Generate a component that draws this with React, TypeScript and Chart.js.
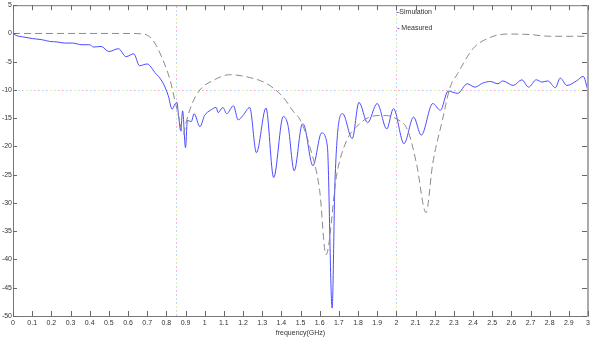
import React, { useEffect, useRef } from "react";
import { Chart, registerables } from "chart.js";

Chart.register(...registerables);

const simFreq = [0, 0.3, 0.6, 0.68, 0.73, 0.78, 0.82, 0.845, 0.87, 0.887, 0.905, 0.93, 0.975, 1.045, 1.13, 1.235, 1.325, 1.41, 1.46, 1.5, 1.55, 1.6, 1.633, 1.69, 1.74, 1.79, 1.86, 1.93, 2.0, 2.06, 2.105, 2.155, 2.19, 2.24, 2.28, 2.32, 2.4, 2.49, 2.58, 2.7, 2.8, 3.0];
const simVal = [0, 0, 0, -0.1, -1.2, -4.5, -8.3, -11.9, -15.5, -17.9, -15.5, -12.8, -10.0, -8.3, -7.3, -7.8, -8.9, -11.3, -13.7, -15.4, -20.2, -27.8, -39.2, -24.8, -19, -16.6, -14.8, -14.5, -15.1, -17.2, -23, -31.7, -23, -15.4, -9.6, -7.1, -2.7, -0.7, -0.1, -0.2, -0.5, -0.5];

const measFreq = [0, 0.02, 0.05, 0.1, 0.15, 0.19, 0.23, 0.27, 0.31, 0.36, 0.4, 0.42, 0.46, 0.5, 0.55, 0.59, 0.63, 0.66, 0.7, 0.74, 0.78, 0.81, 0.83, 0.845, 0.855, 0.865, 0.875, 0.885, 0.9, 0.91, 0.93, 0.945, 0.975, 1.0, 1.03, 1.06, 1.07, 1.095, 1.115, 1.15, 1.175, 1.2, 1.235, 1.27, 1.32, 1.36, 1.41, 1.435, 1.467, 1.51, 1.52, 1.565, 1.61, 1.64, 1.665, 1.68, 1.72, 1.77, 1.805, 1.85, 1.9, 1.95, 1.985, 2.04, 2.09, 2.13, 2.19, 2.23, 2.27, 2.32, 2.37, 2.41, 2.45, 2.49, 2.53, 2.555, 2.61, 2.655, 2.69, 2.73, 2.76, 2.79, 2.83, 2.855, 2.89, 2.94, 2.975, 3.0];
const measVal = [0, -0.4, -0.6, -0.9, -1.1, -1.4, -1.5, -1.7, -1.7, -2.0, -2.0, -2.4, -2.3, -3.2, -2.7, -4.1, -3.6, -5.7, -5.4, -6.9, -8.6, -11, -13.4, -12.5, -12.2, -14.9, -17.2, -13.7, -20.2, -15.4, -15.6, -14.2, -16.5, -14.5, -13.6, -13.1, -14.0, -13.1, -14.2, -12.8, -15.3, -14.5, -13.1, -21.1, -13.2, -25.5, -14.7, -16.3, -24.3, -16.0, -16.3, -23.4, -17.6, -19.9, -48.6, -26, -14.2, -18.6, -12.2, -15.8, -12.4, -16.9, -13.3, -19.5, -14.8, -18, -12.4, -13.6, -10.2, -10.6, -8.9, -9.5, -8.8, -8.5, -8.9, -8.4, -9.2, -8.2, -9.5, -8.2, -8.6, -8.4, -9.6, -7.9, -9.2, -8.4, -7.6, -10.1];

const refX = [0.85, 2.0];
const refY = [-10];
const xTicks = [0, 0.1, 0.2, 0.3, 0.4, 0.5, 0.6, 0.7, 0.8, 0.9, 1, 1.1, 1.2, 1.3, 1.4, 1.5, 1.6, 1.7, 1.8, 1.9, 2, 2.1, 2.2, 2.3, 2.4, 2.5, 2.6, 2.7, 2.8, 2.9, 3];
const yTicks = [5, 0, -5, -10, -15, -20, -25, -30, -35, -40, -45, -50];
const legendLabels = ["Simulation", "Measured"];
const xTitle = "frequency(GHz)";

const FONT = "'Liberation Sans', Arial, sans-serif";

const framePlugin = {
  id: "frame",
  beforeDatasetsDraw(chart: any) {
    const { ctx, chartArea: a, scales } = chart;
    const xs = scales.x, ys = scales.y;
    const dotColors = ["#f4a0a0", "#9fe0f0", "#b8b8f4", "#f2e29a", "#a8eaa8", "#e8a8e8"];
    ctx.save();
    refX.forEach((v) => {
      const px = Math.round(xs.getPixelForValue(v));
      let i = 0;
      for (let y = a.top + 1; y < a.bottom; y += 4) {
        ctx.fillStyle = dotColors[i++ % dotColors.length];
        ctx.fillRect(px, y, 1, 1.5);
      }
    });
    refY.forEach((v) => {
      const py = Math.round(ys.getPixelForValue(v));
      let i = 0;
      for (let x = a.left + 1; x < a.right; x += 4) {
        ctx.fillStyle = dotColors[i++ % dotColors.length];
        ctx.fillRect(x, py, 1.5, 1);
      }
    });
    ctx.restore();
  },
  afterDatasetsDraw(chart: any) {
    const { ctx, chartArea: a, scales } = chart;
    const xs = scales.x, ys = scales.y;
    ctx.save();
    ctx.lineWidth = 1;
    ctx.strokeStyle = "#777";
    ctx.beginPath();
    ctx.moveTo(a.left + 0.5, a.top);
    ctx.lineTo(a.left + 0.5, a.bottom + 0.5);
    ctx.lineTo(a.right, a.bottom + 0.5);
    ctx.moveTo(a.left, a.top + 0.5);
    ctx.lineTo(a.right, a.top + 0.5);
    ctx.stroke();
    ctx.strokeStyle = "#aaa";
    ctx.lineWidth = 2;
    ctx.beginPath();
    ctx.moveTo(a.right, a.top);
    ctx.lineTo(a.right, a.bottom + 1);
    ctx.stroke();
    ctx.lineWidth = 1;
    ctx.strokeStyle = "#666";
    ctx.beginPath();
    xTicks.forEach((v) => {
      const px = Math.round(xs.getPixelForValue(v)) + 0.5;
      ctx.moveTo(px, a.bottom);
      ctx.lineTo(px, a.bottom - 5);
      ctx.moveTo(px, a.top);
      ctx.lineTo(px, a.top + 5);
    });
    yTicks.forEach((v) => {
      const py = Math.round(ys.getPixelForValue(v)) + 0.5;
      ctx.moveTo(a.left, py);
      ctx.lineTo(a.left + 4, py);
      ctx.moveTo(a.right - 1, py);
      ctx.lineTo(a.right - 6, py);
    });
    ctx.stroke();
    const lx = xs.getPixelForValue(2.0);
    ctx.font = `7px ${FONT}`;
    ctx.textBaseline = "middle";
    ctx.fillStyle = "#333";
    ctx.strokeStyle = "#888";
    ctx.beginPath();
    ctx.moveTo(lx, 12.5);
    ctx.lineTo(lx + 3, 12.5);
    ctx.stroke();
    ctx.fillText(legendLabels[0], lx + 3, 12);
    ctx.strokeStyle = "#6666ff";
    ctx.beginPath();
    ctx.moveTo(lx + 1, 28.5);
    ctx.lineTo(lx + 3, 28.5);
    ctx.stroke();
    ctx.fillText(legendLabels[1], lx + 5, 28);
    ctx.restore();
  },
};

export default function App() {
  const ref = useRef<HTMLCanvasElement>(null);
  useEffect(() => {
    if (!ref.current) return;
    const chart = new Chart(ref.current, {
      type: "line",
      data: {
        datasets: [
          {
            label: legendLabels[0],
            data: simFreq.map((f, i) => ({ x: f, y: simVal[i] })),
            borderColor: "#8a8a8a",
            borderWidth: 1,
            borderDash: [7, 4],
            pointRadius: 0,
            cubicInterpolationMode: "monotone",
            fill: false,
          },
          {
            label: legendLabels[1],
            data: measFreq.map((f, i) => ({ x: f, y: measVal[i] })),
            borderColor: "#4c4cff",
            borderWidth: 1,
            pointRadius: 0,
            cubicInterpolationMode: "monotone",
            fill: false,
          },
        ],
      },
      options: {
        animation: false,
        responsive: true,
        maintainAspectRatio: false,
        layout: { padding: { top: 5, right: 12, left: 0, bottom: 0 } },
        plugins: { legend: { display: false }, tooltip: { enabled: false }, title: { display: false } },
        scales: {
          x: {
            type: "linear",
            min: 0,
            max: 3,
            afterBuildTicks: (s: any) => {
              s.ticks = xTicks.map((v) => ({ value: v }));
            },
            afterFit: (s: any) => {
              s.height = 21;
            },
            grid: { display: false, drawTicks: false, tickLength: 0 },
            border: { display: false },
            ticks: {
              padding: 3,
              color: "#333",
              font: { family: FONT, size: 7 },
              maxRotation: 0,
              autoSkip: false,
              callback: (v: any) => String(Number(Number(v).toFixed(1))),
            },
            title: {
              display: true,
              text: xTitle,
              color: "#333",
              font: { family: FONT, size: 7 },
              padding: { top: 0, bottom: 0 },
            },
          },
          y: {
            type: "linear",
            min: -50,
            max: 5,
            afterBuildTicks: (s: any) => {
              s.ticks = yTicks.map((v) => ({ value: v }));
            },
            afterFit: (s: any) => {
              s.width = 13;
            },
            grid: { display: false, drawTicks: false, tickLength: 0 },
            border: { display: false },
            ticks: {
              padding: 1,
              color: "#333",
              font: { family: FONT, size: 7 },
              autoSkip: false,
            },
          },
        },
      },
      plugins: [framePlugin],
    });
    return () => chart.destroy();
  }, []);
  return (
    <div style={{ position: "fixed", left: 0, top: 0, width: 600, height: 337, background: "#fff" }}>
      <canvas ref={ref} />
    </div>
  );
}
